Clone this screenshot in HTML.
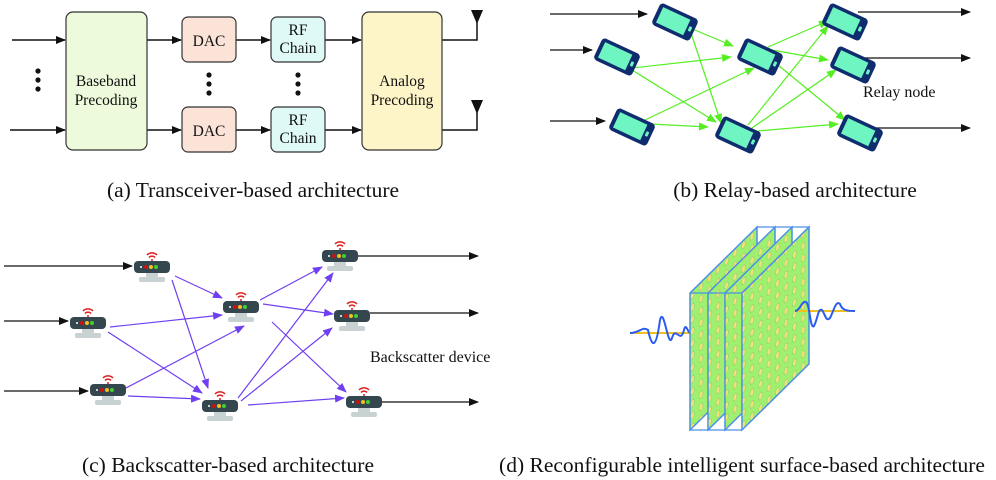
<!DOCTYPE html>
<html><head><meta charset="utf-8"><style>
body{margin:0;background:#fff}
svg{display:block}
text{font-family:"Liberation Serif",serif;fill:#111}
</style></head><body>
<svg width="996" height="480" viewBox="0 0 996 480" xmlns="http://www.w3.org/2000/svg">
<defs>
<marker id="ak" markerWidth="10" markerHeight="8" refX="9" refY="4" orient="auto" markerUnits="userSpaceOnUse"><path d="M0,0 L10,4 L0,8 Z" fill="#111"/></marker>
<marker id="ag" markerWidth="10" markerHeight="8" refX="9" refY="4" orient="auto" markerUnits="userSpaceOnUse"><path d="M0,0 L10,4 L0,8 Z" fill="#55ee22"/></marker>
<marker id="ap" markerWidth="10" markerHeight="8" refX="9" refY="4" orient="auto" markerUnits="userSpaceOnUse"><path d="M0,0 L10,4 L0,8 Z" fill="#7040f0"/></marker>
<g id="phone">
<rect x="-21" y="-12" width="42" height="24" rx="4" fill="#0f2d6e"/>
<rect x="-17" y="-8.5" width="30" height="17" fill="#6ef5c2"/>
<rect x="15" y="-2.5" width="3" height="5" rx="1" fill="#6ef5c2"/>
</g>
<g id="router">
<path d="M-5,-12 a7,7 0 0 1 10,0 M-3,-9.5 a4,4 0 0 1 6,0" stroke="#e02020" stroke-width="1.5" fill="none"/>
<circle cx="0" cy="-7" r="1" fill="#e02020"/>
<rect x="-6" y="6" width="12" height="5" fill="#c9d2d2"/>
<rect x="-13" y="10" width="26" height="5" rx="2" fill="#c9d2d2"/>
<rect x="-18" y="-6" width="36" height="12" rx="4" fill="#34474f"/>
<circle cx="-11" cy="0" r="1" fill="#fff"/>
<circle cx="-6" cy="0" r="2" fill="#d01010"/>
<circle cx="-1" cy="0" r="2" fill="#f0c020"/>
<circle cx="4" cy="0" r="2" fill="#40d030"/>
</g>
<pattern id="dots" width="8.5" height="12" patternUnits="userSpaceOnUse" patternTransform="skewY(-44.6)">
<ellipse cx="4" cy="6" rx="2" ry="3.4" fill="#f2e07a" stroke="#8fcf70" stroke-width="0.6"/>
</pattern>
</defs>

<!-- (a) -->
<g stroke="#111" stroke-width="1.5" fill="none">
<line x1="12" y1="40" x2="65" y2="40" marker-end="url(#ak)"/>
<line x1="10" y1="130" x2="65" y2="130" marker-end="url(#ak)"/>
<line x1="147" y1="40" x2="181" y2="40" marker-end="url(#ak)"/>
<line x1="147" y1="130" x2="181" y2="130" marker-end="url(#ak)"/>
<line x1="236" y1="40" x2="270" y2="40" marker-end="url(#ak)"/>
<line x1="236" y1="130" x2="270" y2="130" marker-end="url(#ak)"/>
<line x1="325" y1="40" x2="361" y2="40" marker-end="url(#ak)"/>
<line x1="325" y1="130" x2="361" y2="130" marker-end="url(#ak)"/>
<polyline points="442,40 477,40 477,18"/>
<polyline points="442,130 477,130 477,108"/>
</g>
<path d="M471,10 L483,10 L477,24 Z M471,100 L483,100 L477,114 Z" fill="#111"/>
<g fill="#111"><circle cx="38" cy="71" r="2.6"/><circle cx="38" cy="80" r="2.6"/><circle cx="38" cy="89" r="2.6"/>
<circle cx="209" cy="75" r="2.6"/><circle cx="209" cy="84" r="2.6"/><circle cx="209" cy="93" r="2.6"/>
<circle cx="298" cy="75" r="2.6"/><circle cx="298" cy="84" r="2.6"/><circle cx="298" cy="93" r="2.6"/></g>
<g stroke="#333" stroke-width="1.2">
<rect x="66" y="12" width="81" height="138" rx="7" fill="#eefadc"/>
<rect x="182" y="17" width="54" height="45" rx="6" fill="#fbe3d8"/>
<rect x="182" y="107" width="54" height="45" rx="6" fill="#fbe3d8"/>
<rect x="271" y="17" width="54" height="45" rx="6" fill="#dff9f6"/>
<rect x="271" y="107" width="54" height="45" rx="6" fill="#dff9f6"/>
<rect x="362" y="12" width="80" height="138" rx="7" fill="#fdf4c8"/>
</g>
<g font-size="15.5" text-anchor="middle">
<text x="106" y="86">Baseband</text><text x="106" y="105">Precoding</text>
<text x="209" y="46">DAC</text><text x="209" y="136">DAC</text>
<text x="298" y="35">RF</text><text x="298" y="53">Chain</text>
<text x="298" y="125">RF</text><text x="298" y="143">Chain</text>
<text x="402" y="86">Analog</text><text x="402" y="105">Precoding</text>
</g>
<text x="253" y="197" font-size="21.5" text-anchor="middle">(a) Transceiver-based architecture</text>

<!-- (b) -->
<g stroke="#111" stroke-width="1.2">
<line x1="550" y1="14" x2="647" y2="14" marker-end="url(#ak)"/>
<line x1="550" y1="50" x2="592" y2="50" marker-end="url(#ak)"/>
<line x1="550" y1="121" x2="605" y2="121" marker-end="url(#ak)"/>
<line x1="858" y1="12" x2="970" y2="12" marker-end="url(#ak)"/>
<line x1="864" y1="58" x2="970" y2="58" marker-end="url(#ak)"/>
<line x1="873" y1="128" x2="970" y2="128" marker-end="url(#ak)"/>
</g>
<g stroke="#55ee22" stroke-width="1.2">
<line x1="690" y1="28" x2="733" y2="46" marker-end="url(#ag)"/>
<line x1="690" y1="30" x2="721" y2="123" marker-end="url(#ag)"/>
<line x1="632" y1="68" x2="731" y2="57" marker-end="url(#ag)"/>
<line x1="632" y1="70" x2="716" y2="122" marker-end="url(#ag)"/>
<line x1="645" y1="120" x2="754" y2="68" marker-end="url(#ag)"/>
<line x1="650" y1="124" x2="708" y2="127" marker-end="url(#ag)"/>
<line x1="768" y1="47" x2="828" y2="21" marker-end="url(#ag)"/>
<line x1="772" y1="50" x2="828" y2="60" marker-end="url(#ag)"/>
<line x1="778" y1="65" x2="845" y2="120" marker-end="url(#ag)"/>
<line x1="748" y1="125" x2="828" y2="26" marker-end="url(#ag)"/>
<line x1="752" y1="128" x2="836" y2="70" marker-end="url(#ag)"/>
<line x1="758" y1="131" x2="838" y2="124" marker-end="url(#ag)"/>
</g>
<use href="#phone" transform="translate(675,22) rotate(25)"/>
<use href="#phone" transform="translate(617,57) rotate(25)"/>
<use href="#phone" transform="translate(632,127) rotate(25)"/>
<use href="#phone" transform="translate(760,57) rotate(25)"/>
<use href="#phone" transform="translate(738,135) rotate(25)"/>
<use href="#phone" transform="translate(845,22) rotate(25)"/>
<use href="#phone" transform="translate(853,65) rotate(25)"/>
<use href="#phone" transform="translate(860,133) rotate(25)"/>
<text x="863" y="97" font-size="16">Relay node</text>
<text x="795" y="197" font-size="21.5" text-anchor="middle">(b) Relay-based architecture</text>

<!-- (c) -->
<g stroke="#111" stroke-width="1.2">
<line x1="4" y1="266" x2="132" y2="266" marker-end="url(#ak)"/>
<line x1="4" y1="321" x2="68" y2="321" marker-end="url(#ak)"/>
<line x1="4" y1="391" x2="88" y2="391" marker-end="url(#ak)"/>
<line x1="358" y1="256" x2="478" y2="256" marker-end="url(#ak)"/>
<line x1="370" y1="313" x2="478" y2="313" marker-end="url(#ak)"/>
<line x1="382" y1="402" x2="478" y2="402" marker-end="url(#ak)"/>
</g>
<g stroke="#7040f0" stroke-width="1.2">
<line x1="175" y1="276" x2="222" y2="298" marker-end="url(#ap)"/>
<line x1="172" y1="280" x2="208" y2="388" marker-end="url(#ap)"/>
<line x1="110" y1="327" x2="222" y2="315" marker-end="url(#ap)"/>
<line x1="108" y1="332" x2="202" y2="393" marker-end="url(#ap)"/>
<line x1="126" y1="388" x2="244" y2="326" marker-end="url(#ap)"/>
<line x1="128" y1="396" x2="200" y2="399" marker-end="url(#ap)"/>
<line x1="260" y1="300" x2="322" y2="267" marker-end="url(#ap)"/>
<line x1="263" y1="304" x2="333" y2="314" marker-end="url(#ap)"/>
<line x1="272" y1="322" x2="346" y2="392" marker-end="url(#ap)"/>
<line x1="238" y1="398" x2="333" y2="273" marker-end="url(#ap)"/>
<line x1="241" y1="401" x2="332" y2="328" marker-end="url(#ap)"/>
<line x1="248" y1="405" x2="344" y2="398" marker-end="url(#ap)"/>
</g>
<use href="#router" transform="translate(152,267)"/>
<use href="#router" transform="translate(88,323)"/>
<use href="#router" transform="translate(108,390)"/>
<use href="#router" transform="translate(241,307)"/>
<use href="#router" transform="translate(220,406)"/>
<use href="#router" transform="translate(340,256)"/>
<use href="#router" transform="translate(352,316)"/>
<use href="#router" transform="translate(364,402)"/>
<text x="370" y="362" font-size="16">Backscatter device</text>
<text x="228" y="472" font-size="21.5" text-anchor="middle">(c) Backscatter-based architecture</text>

<!-- (d) -->
<line x1="630" y1="333" x2="690" y2="333" stroke="#f0c020" stroke-width="2"/>
<path d="M630,333 C640,333 642,326 648,330 C652,348 656,350 660,320 C664,305 668,350 672,338 C676,325 680,345 684,330 C686,322 688,333 690,333" stroke="#2a5cf0" stroke-width="2" fill="none"/>
<g stroke="#4a90e8" stroke-width="1.3">
<polygon points="690,293 757,227 757,364 690,430" fill="#a0f070"/>
<polygon points="690,293 757,227 757,364 690,430" fill="url(#dots)"/>
<polygon points="708,293 775,227 775,364 708,430" fill="#a0f070"/>
<polygon points="708,293 775,227 775,364 708,430" fill="url(#dots)"/>
<polygon points="725,293 792,227 792,364 725,430" fill="#a0f070"/>
<polygon points="725,293 792,227 792,364 725,430" fill="url(#dots)"/>
<polygon points="742,293 809,227 809,364 742,430" fill="#a0f070"/>
<polygon points="742,293 809,227 809,364 742,430" fill="url(#dots)"/>
<polyline points="690,293 742,293 809,227 757,227" fill="none"/>
<line x1="690" y1="430" x2="742" y2="430"/>
</g>
<line x1="795" y1="311" x2="855" y2="311" stroke="#f0c020" stroke-width="2"/>
<path d="M795,311 C800,311 802,300 806,302 C810,304 810,330 814,326 C818,318 818,308 822,310 C826,316 826,322 830,318 C834,310 836,300 840,304 C842,310 846,311 855,311" stroke="#2a5cf0" stroke-width="2" fill="none"/>
<text x="742" y="472" font-size="21.5" text-anchor="middle">(d) Reconfigurable intelligent surface-based architecture</text>
</svg>
</body></html>
